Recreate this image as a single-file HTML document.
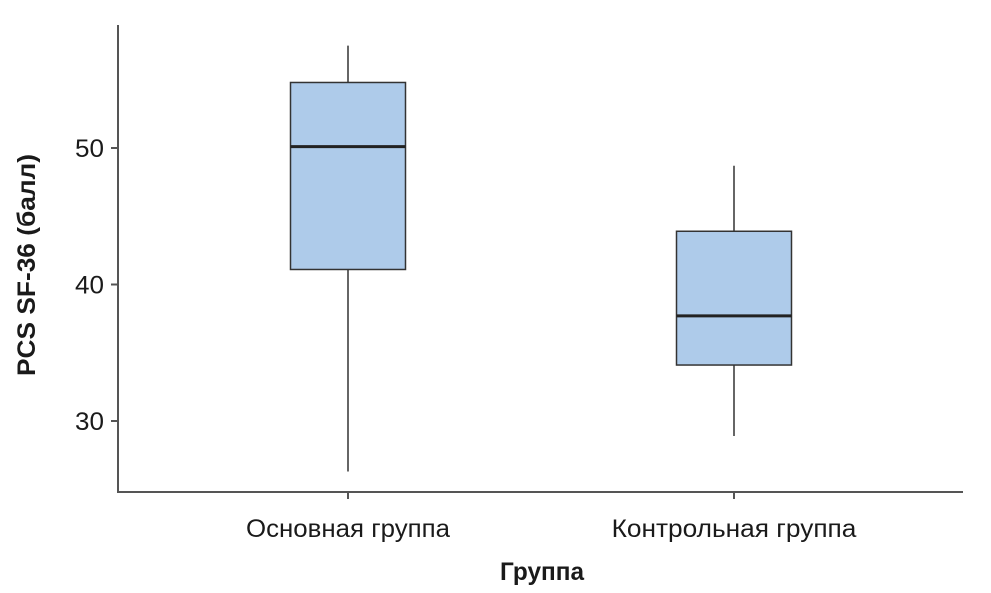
<!DOCTYPE html>
<html><head><meta charset="utf-8"><style>
html,body{margin:0;padding:0;background:#fff;}
svg{display:block;}
text{font-family:"Liberation Sans","DejaVu Sans",sans-serif;fill:#1a1a1a;}
</style></head><body>
<svg id="chart" width="991" height="593"></svg>
<script>
const categories = ["Основная группа", "Контрольная группа"];
const whiskerLow = [26.3, 28.9];
const q1Values = [41.1, 34.1];
const medians = [50.1, 37.7];
const q3Values = [54.8, 43.9];
const whiskerHigh = [57.5, 48.7];
const yTicks = [30, 40, 50];

const NS = "http://www.w3.org/2000/svg";
const svg = document.getElementById("chart");
const x0 = 118, x1 = 963, yTop = 25, yBot = 492;
function yScale(v){ return 148 + (50 - v) * 13.65; }
function xScale(i){ return 348 + i * 386; }
function el(tag, attrs, parent){
  const e = document.createElementNS(NS, tag);
  for (const k in attrs) e.setAttribute(k, attrs[k]);
  (parent || svg).appendChild(e);
  return e;
}
const yAxis = el("line",{x1:x0,y1:yTop,x2:x0,y2:yBot,stroke:"#555","stroke-width":2});


const xAxis = el("line",{x1:x0-1,y1:yBot,x2:x1,y2:yBot,stroke:"#555","stroke-width":2});



yTicks.forEach(t=>{
  const y = yScale(t);
  const tk = el("line",{x1:x0-7,y1:y,x2:x0,y2:y,stroke:"#555","stroke-width":2});
  
  
  const lb = el("text",{x:x0-14,y:y+9,"text-anchor":"end","font-size":25,textLength:29,lengthAdjust:"spacingAndGlyphs"});
  lb.textContent = t;
  
  
});

categories.forEach((c,i)=>{
  const cx = xScale(i), hw = 57.5;
  const g = el("g",{});
  
  
  el("line",{x1:cx,y1:yScale(whiskerHigh[i]),x2:cx,y2:yScale(whiskerLow[i]),stroke:"#333","stroke-width":1.5},g);
  el("rect",{x:cx-hw,y:yScale(q3Values[i]),width:hw*2,height:yScale(q1Values[i])-yScale(q3Values[i]),fill:"#aecbea",stroke:"#333","stroke-width":1.5},g);
  el("line",{x1:cx-hw,y1:yScale(medians[i]),x2:cx+hw,y2:yScale(medians[i]),stroke:"#222","stroke-width":3},g);
  const tk = el("line",{x1:cx,y1:yBot,x2:cx,y2:yBot+7,stroke:"#555","stroke-width":2});
  
  
  const lb = el("text",{x:cx,y:537,"text-anchor":"middle","font-size":25,textLength:c.length*13.6,lengthAdjust:"spacingAndGlyphs"});
  lb.textContent = c;
  
  
});

const xt = el("text",{x:542,y:580,"text-anchor":"middle","font-size":25,"font-weight":"bold",textLength:84,lengthAdjust:"spacingAndGlyphs"});
xt.textContent = "Группа";


const yt = el("text",{x:0,y:0,"text-anchor":"middle","font-size":25,"font-weight":"bold",transform:"translate(35,265) rotate(-90)",textLength:222,lengthAdjust:"spacingAndGlyphs"});
yt.textContent = "PCS SF-36 (балл)";


</script>
</body></html>
